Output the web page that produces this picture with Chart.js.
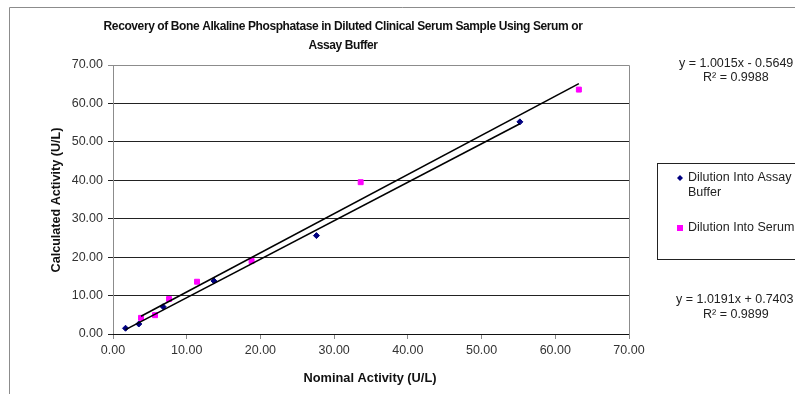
<!DOCTYPE html>
<html>
<head>
<meta charset="utf-8">
<script src="https://cdn.jsdelivr.net/npm/chart.js@4"></script>
<style>
  html, body { margin: 0; padding: 0; background: #fff; }
  #wrap { width: 795px; height: 394px; }
</style>
</head>
<body>
<div id="wrap"><canvas id="chart" width="795" height="394"></canvas></div>
<script>
const chartTitle = ["Recovery of Bone Alkaline Phosphatase in Diluted Clinical Serum Sample Using Serum or", "Assay Buffer"]
const xTitle = "Nominal Activity (U/L)"
const yTitle = "Calculated Activity (U/L)"
const seriesNames = ["Dilution Into Assay Buffer", "Dilution Into Serum"]

// assay buffer dilutions
const nominalBuffer = [1.7, 3.5, 6.8, 13.7, 27.6, 55.2]
const calcBuffer = [1.5, 2.6, 7.1, 13.8, 25.6, 55.2]
// serum dilutions
const nominalSerum = [3.8, 5.7, 7.6, 11.4, 18.8, 33.6, 63.2]
const calcSerum = [4.2, 4.9, 9.1, 13.6, 19.0, 39.5, 63.6]

// linear trendlines (buffer, serum)
const fitSlope = [1.0015, 1.0191]
const fitIntercept = [-0.5649, 0.7403]
const fitR2 = ["0.9988", "0.9899"]

const xTicks = [0, 10, 20, 30, 40, 50, 60, 70]
const yTicks = [0, 10, 20, 30, 40, 50, 60, 70]

const FONT = "'Liberation Sans', Arial, sans-serif"

function points(xs, ys) {
  return xs.map((x, i) => ({ x: x, y: ys[i] }))
}
function fitLine(xs, k) {
  const lo = Math.min(...xs), hi = Math.max(...xs)
  return [lo, hi].map(x => ({ x: x, y: fitSlope[k] * x + fitIntercept[k] }))
}
function eqText(k) {
  const b = fitIntercept[k]
  return "y = " + fitSlope[k].toFixed(4) + "x " + (b < 0 ? "- " : "+ ") + Math.abs(b).toFixed(4)
}

// frame, titles, legend box and trendline equations
const decorations = {
  id: "decorations",
  beforeDraw(chart) {
    const ctx = chart.ctx
    ctx.save()
    ctx.fillStyle = "#fff"
    ctx.fillRect(0, 0, chart.width, chart.height)
    ctx.strokeStyle = "#8c8c8c"
    ctx.lineWidth = 1
    ctx.beginPath()
    ctx.moveTo(9.5, chart.height)
    ctx.lineTo(9.5, 7.5)
    ctx.lineTo(chart.width, 7.5)
    ctx.stroke()
    ctx.restore()
  },
  afterDatasetsDraw(chart) {
    const ctx = chart.ctx
    const a = chart.chartArea
    ctx.save()
    // plot border
    ctx.strokeStyle = "#8c8c8c"
    ctx.lineWidth = 1
    ctx.beginPath()
    ctx.moveTo(Math.round(a.left) + 0.5, Math.round(a.bottom))
    ctx.lineTo(Math.round(a.left) + 0.5, Math.round(a.top) + 0.5)
    ctx.lineTo(Math.round(a.right) + 0.5, Math.round(a.top) + 0.5)
    ctx.lineTo(Math.round(a.right) + 0.5, Math.round(a.bottom))
    ctx.stroke()
    ctx.strokeStyle = "#111"
    ctx.beginPath()
    ctx.moveTo(a.left, Math.round(a.bottom) + 0.5)
    ctx.lineTo(a.right, Math.round(a.bottom) + 0.5)
    ctx.stroke()

    ctx.fillStyle = "#111"
    ctx.textAlign = "center"
    ctx.textBaseline = "middle"
    ctx.font = "bold 12px " + FONT
    ctx.letterSpacing = "-0.4px"
    ctx.fillText(chartTitle[0], 343, 27)
    ctx.fillText(chartTitle[1], 343, 46)
    ctx.letterSpacing = "0px"

    ctx.font = "bold 12.8px " + FONT
    ctx.fillText(xTitle, 370, 378)
    ctx.save()
    ctx.translate(57, 200)
    ctx.rotate(-Math.PI / 2)
    ctx.font = "bold 12.6px " + FONT
    ctx.fillText(yTitle, 0, 0)
    ctx.restore()

    // equations
    ctx.font = "12.5px " + FONT
    ctx.fillStyle = "#222"
    ctx.textAlign = "left"
    ctx.fillText(eqText(0), 679, 64)
    ctx.fillText("R\u00b2 = " + fitR2[0], 703, 78)
    ctx.fillText(eqText(1), 676, 300)
    ctx.fillText("R\u00b2 = " + fitR2[1], 703, 315)

    // legend
    ctx.strokeStyle = "#222"
    ctx.strokeRect(657.5, 163.5, 160, 96)
    const rows = [178, 228]
    chart.data.datasets.slice(0, 2).forEach((ds, i) => {
      const y = rows[i]
      ctx.fillStyle = ds.backgroundColor
      if (i === 0) {
        ctx.beginPath()
        ctx.moveTo(680, y - 3); ctx.lineTo(683, y); ctx.lineTo(680, y + 3); ctx.lineTo(677, y)
        ctx.closePath(); ctx.fill()
      } else {
        ctx.fillRect(677, y - 3, 6, 6)
      }
      ctx.fillStyle = "#222"
      const words = ds.label.split(" ")
      let line = "", ly = y
      words.forEach(w => {
        const t = line ? line + " " + w : w
        if (ctx.measureText(t).width > 115 && line) {
          ctx.fillText(line, 688, ly)
          line = w
          ly += 15
        } else {
          line = t
        }
      })
      ctx.fillText(line, 688, ly)
    })
    ctx.restore()
  }
}

new Chart(document.getElementById("chart"), {
  type: "scatter",
  data: {
    datasets: [
      {
        label: seriesNames[0],
        data: points(nominalBuffer, calcBuffer),
        backgroundColor: "#000080",
        borderColor: "#000080",
        pointStyle: "rectRot",
        pointRadius: 3,
        order: 2
      },
      {
        label: seriesNames[1],
        data: points(nominalSerum, calcSerum),
        backgroundColor: "#ff00ff",
        borderColor: "#ff00ff",
        pointStyle: "rect",
        pointRadius: 3.5,
        order: 2
      },
      {
        type: "line",
        label: "fit buffer",
        data: fitLine(nominalBuffer, 0),
        borderColor: "#000",
        borderWidth: 1.6,
        pointRadius: 0,
        order: 1
      },
      {
        type: "line",
        label: "fit serum",
        data: fitLine(nominalSerum, 1),
        borderColor: "#000",
        borderWidth: 1.6,
        pointRadius: 0,
        order: 1
      }
    ]
  },
  options: {
    responsive: false,
    animation: false,
    layout: { padding: { left: 0, right: 166, top: 65, bottom: 0 } },
    plugins: {
      legend: { display: false },
      tooltip: { enabled: false }
    },
    scales: {
      x: {
        type: "linear",
        min: 0,
        max: 70,
        afterBuildTicks: s => { s.ticks = xTicks.map(v => ({ value: v })) },
        afterFit: s => { s.height = 60 },
        ticks: {
          padding: 4,
          color: "#333",
          font: { family: FONT, size: 12.5 },
          callback: v => v.toFixed(2)
        },
        grid: { drawOnChartArea: false, tickLength: 5, color: "#888" },
        border: { display: false }
      },
      y: {
        min: 0,
        max: 70,
        afterBuildTicks: s => { s.ticks = yTicks.map(v => ({ value: v })) },
        afterFit: s => { s.width = 113 },
        ticks: {
          padding: 5,
          color: "#333",
          font: { family: FONT, size: 12.5 },
          callback: v => v.toFixed(2)
        },
        grid: {
          tickLength: 5,
          color: c => (c.tick && c.tick.value === 70 ? "#8c8c8c" : "#222"),
          lineWidth: 1
        },
        border: { display: false }
      }
    }
  },
  plugins: [decorations]
})
</script>
</body>
</html>
